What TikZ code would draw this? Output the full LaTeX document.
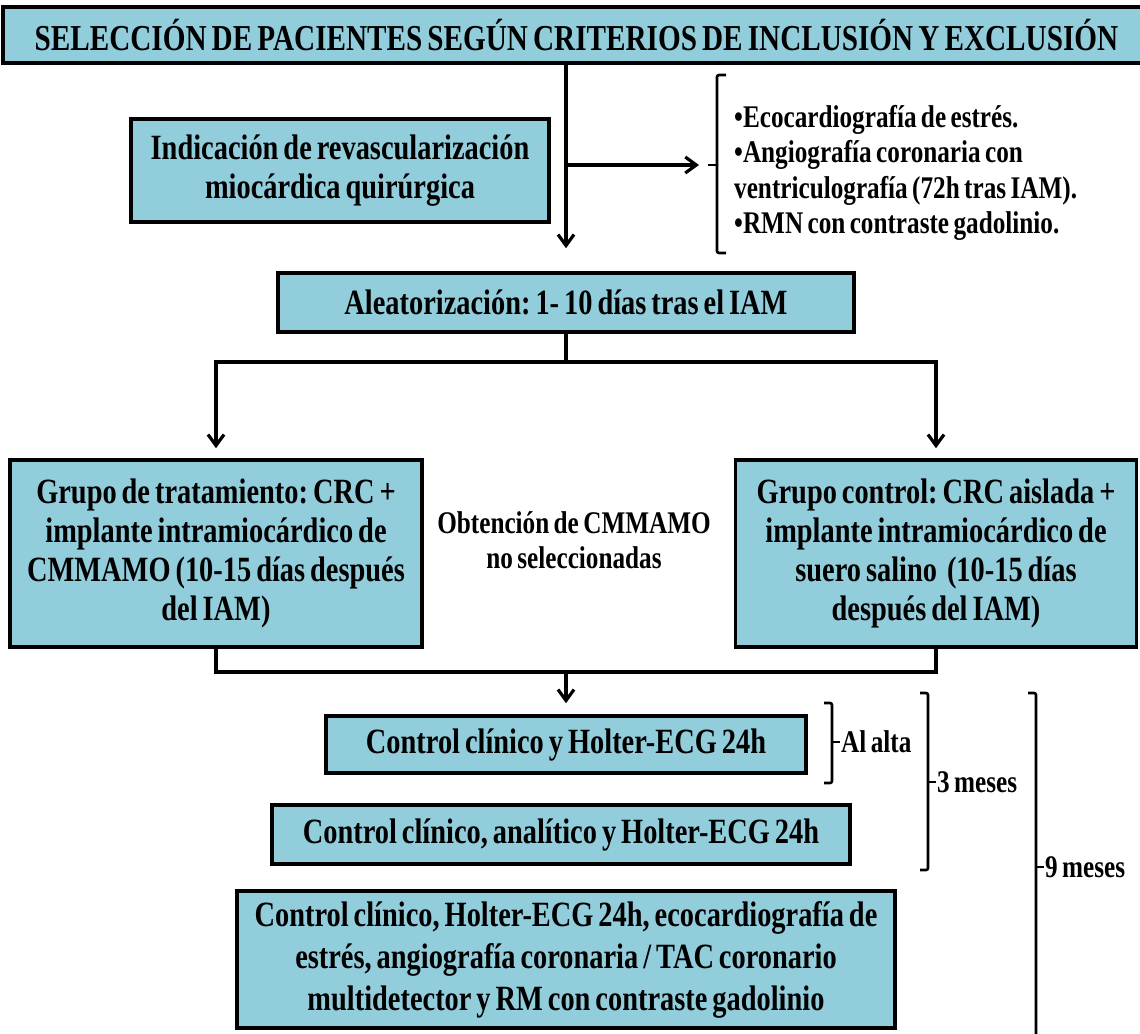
\documentclass[tikz,border=0pt]{standalone}
\usepackage{fontspec}
\setmainfont{Liberation Serif}[FakeStretch=0.8,WordSpace=0.7]
\usetikzlibrary{arrows.meta}
\definecolor{boxblue}{RGB}{146,205,220}
\frenchspacing
\newcommand{\titlefont}{\fontsize{36.5}{41}\selectfont\bfseries}
\newcommand{\boxfont}{\fontsize{35.5}{39}\selectfont\bfseries}
\newcommand{\notefont}{\fontsize{31.5}{35.5}\selectfont\bfseries}

\begin{document}
\begin{tikzpicture}[
  x=1pt, y=-1pt,
  box/.style={draw=black, line width=3.5pt, fill=boxblue, align=center,
    font=\boxfont, inner sep=0pt},
  link/.style={line width=3.2pt},
  arr/.style={link, -{Straight Barb[length=11pt,width=16pt]}},
  brace/.style={line width=2.6pt, rounded corners=2pt},
  note/.style={font=\notefont, inner sep=0pt},
]
\useasboundingbox (0,0) rectangle (1140,1033);

% ---------- selection ----------
\node[box, font=\titlefont, minimum width=1147, minimum height=56] (title) at (576.5,35)
  {SELECCIÓN DE PACIENTES SEGÚN CRITERIOS DE INCLUSIÓN Y EXCLUSIÓN};

\node[box, minimum width=418, minimum height=103] (indic) at (340,170.5)
  {Indicación de revascularización\\ miocárdica quirúrgica};

% tests listed beside the main line
\node[note, anchor=west, align=left] (tests) at (734,173)
  {\textbullet Ecocardiografía de estrés.\\
   \textbullet Angiografía coronaria con\\
   ventriculografía (72h tras IAM).\\
   \textbullet RMN con contraste gadolinio.};
\draw[brace] (726,75) -- (717,75) -- (717,253) -- (726,253);
\draw[brace] (708,165) -- (717,165);

\node[box, minimum width=576, minimum height=59] (random) at (566,302.5)
  {Aleatorización: 1- 10 días tras el IAM};

\coordinate (tap) at (566,165);
\coordinate (bracetip) at (699,165);
\draw[arr, shorten >=23pt] (title.south -| random.north) -- (random.north);
\draw[arr] (tap) -- (bracetip);

% ---------- the two groups ----------
\node[box, minimum width=412, minimum height=187] (treat) at (216,553.5)
  {Grupo de tratamiento: CRC +\\ implante intramiocárdico de\\
   CMMAMO (10-15 días después\\ del IAM)};
\node[box, minimum width=401, minimum height=187] (ctrl) at (936,553.5)
  {Grupo control: CRC aislada +\\ implante intramiocárdico de\\
   suero salino~~(10-15 días\\ después del IAM)};
\node[note, align=center] (cells) at (574,540)
  {Obtención de CMMAMO\\ no seleccionadas};

\coordinate (fork) at (566,362);
\draw[link] (random.south) -- (fork);
\draw[arr, shorten >=10pt] (fork) -| (treat.north);
\draw[arr, shorten >=10pt] (fork) -| (ctrl.north);

% ---------- follow-up ----------
\node[box, minimum width=480, minimum height=57] (visit1) at (566,744.5)
  {Control clínico y Holter-ECG 24h};
\node[box, minimum width=578, minimum height=59] (visit2) at (561,834.5)
  {Control clínico, analítico y Holter-ECG 24h};
\node[box, font=\fontsize{35.5}{42}\selectfont\bfseries,
  minimum width=658, minimum height=137] (visit3) at (566,959.5)
  {Control clínico, Holter-ECG 24h, ecocardiografía de\\
   estrés, angiografía coronaria / TAC coronario\\
   multidetector y RM con contraste gadolinio};

\coordinate (merge) at (566,672);
\draw[link] (treat.south) |- (merge) -| (ctrl.south);
\draw[arr, shorten >=11pt] (merge) -- (visit1.north);

% time spans
\foreach \bx/\btop/\bbot/\bmid/\blab [count=\i] in
  {832/703/783/742/Al alta, 928/693/870/782/3 meses, 1036/693/1045/867/9 meses} {
  \draw[brace] (\bx-8,\btop) -- (\bx,\btop) -- (\bx,\bbot) -- (\bx-8,\bbot);
  \draw[brace] (\bx,\bmid) -- (\bx+8,\bmid);
  \node[note, anchor=west] (span\i) at (\bx+9,\bmid) {\blab};
}

\end{tikzpicture}
\end{document}
